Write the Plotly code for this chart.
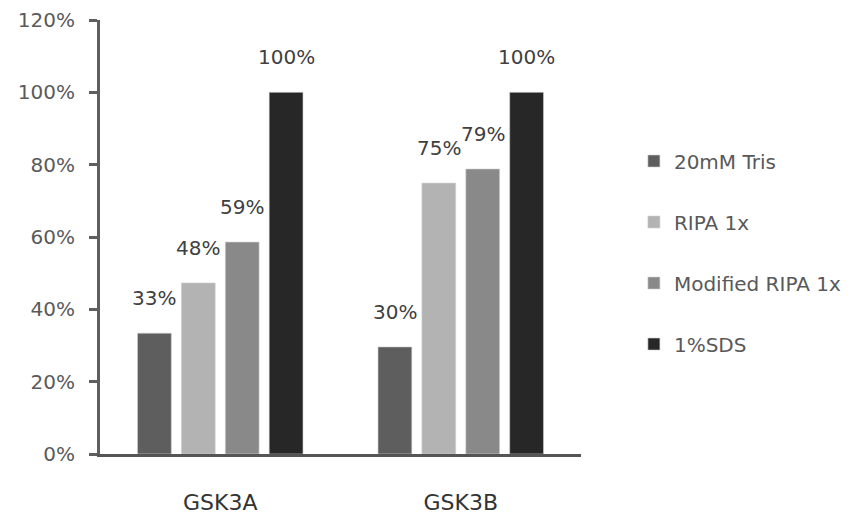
import plotly.graph_objects as go

categories = ["GSK3A", "GSK3B"]
series_names = ["20mM Tris", "RIPA 1x", "Modified RIPA 1x", "1%SDS"]
values = [
    [0.334, 0.296],
    [0.473, 0.749],
    [0.586, 0.788],
    [1.00, 1.00],
]
labels = [
    ["33%", "30%"],
    ["48%", "75%"],
    ["59%", "79%"],
    ["100%", "100%"],
]
colors = ["#5e5e5e", "#b3b3b3", "#898989", "#272727"]
y_ticks = [0, 0.2, 0.4, 0.6, 0.8, 1.0, 1.2]
y_ticklabels = ["0%", "20%", "40%", "60%", "80%", "100%", "120%"]

FONT = "DejaVu Sans"

fig = go.Figure()
for i, name in enumerate(series_names):
    fig.add_trace(go.Bar(
        x=categories, y=values[i], name=name,
        marker=dict(color=colors[i], line=dict(color="#d0d0d0", width=0.6)),
        legendgroup=name,
        text=labels[i], textposition="none",
    ))

# data labels placed above bars
slot = 44
offsets = [-1.5 * slot, -0.5 * slot, 0.5 * slot, 1.5 * slot]
for i in range(len(series_names)):
    for j, c in enumerate(categories):
        fig.add_annotation(
            x=c, y=values[i][j], text=labels[i][j], showarrow=False,
            xshift=offsets[i], yshift=21, yanchor="bottom", xanchor="center",
            font=dict(family=FONT, size=20, color="#404040"),
        )

fig.update_layout(
    width=865, height=518,
    margin=dict(l=100, r=284, t=20, b=64),
    paper_bgcolor="white", plot_bgcolor="white",
    barmode="group", bargap=0.27, bargroupgap=0.23,
    showlegend=True,
    legend=dict(
        x=1.11, xanchor="left", y=0.72, yanchor="top",
        font=dict(family=FONT, size=20, color="#595959"),
        traceorder="grouped", tracegroupgap=32,
        bgcolor="rgba(0,0,0,0)",
    ),
    font=dict(family=FONT),
)
fig.update_yaxes(
    range=[0, 1.2], tickvals=y_ticks, ticktext=y_ticklabels,
    showgrid=False, zeroline=False, automargin=False,
    showline=True, linecolor="#5f5f5f", linewidth=3,
    ticks="outside", ticklen=8, tickwidth=3, tickcolor="#5f5f5f",
    ticklabelstandoff=10,
    tickfont=dict(family=FONT, size=20, color="#5a5a5a"),
)
fig.update_xaxes(
    showgrid=False, zeroline=False, automargin=False,
    showline=True, linecolor="#555555", linewidth=3,
    ticks="", ticklabelstandoff=27,
    tickfont=dict(family=FONT, size=22, color="#333333"),
)

fig.write_html("out.html")
